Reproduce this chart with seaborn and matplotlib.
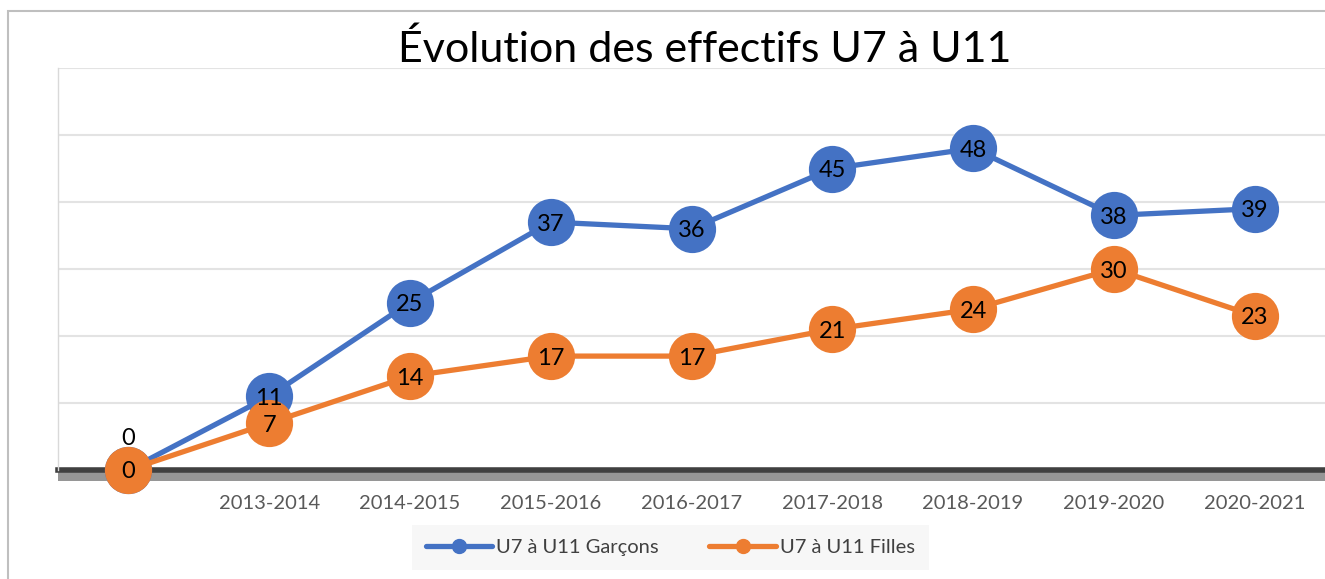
import numpy as np
import pandas as pd
import matplotlib.pyplot as plt
import seaborn as sns
from matplotlib.lines import Line2D
from matplotlib.patches import Rectangle

# data
saisons = ["", "2013-2014", "2014-2015", "2015-2016", "2016-2017",
           "2017-2018", "2018-2019", "2019-2020", "2020-2021"]
garcons = [0, 11, 25, 37, 36, 45, 48, 38, 39]
filles = [0, 7, 14, 17, 17, 21, 24, 30, 23]
series = ["U7 à U11 Garçons", "U7 à U11 Filles"]
couleurs = ["#4472C4", "#ED7D31"]

df = pd.DataFrame({
    "pos": list(range(len(saisons))) * 2,
    "effectif": garcons + filles,
    "serie": [series[0]] * len(saisons) + [series[1]] * len(saisons),
})

sns.set_theme(style="white")
plt.rcParams["font.family"] = ["Lato", "DejaVu Sans"]

fig = plt.figure(figsize=(13.25, 5.79), dpi=100)
ax = fig.add_axes([58 / 1325, 109 / 579, 1 - 58 / 1325, 402 / 579])

sns.lineplot(data=df, x="pos", y="effectif", hue="serie", palette=couleurs,
             marker="o", markersize=34, markeredgewidth=0, linewidth=3.8,
             sort=False, legend=False, ax=ax, zorder=3)
for ln in ax.lines:
    ln.set_clip_on(False)

# data labels
lab_fs = 17
for i, v in enumerate(garcons):
    if i == 0:
        ax.annotate(str(v), (i, v), xytext=(0, 24), textcoords="offset points",
                    ha="center", va="center_baseline", fontsize=lab_fs, color="black", zorder=5)
    else:
        ax.text(i, v, str(v), ha="center", va="center_baseline", fontsize=lab_fs,
                color="black", zorder=5)
for i, v in enumerate(filles):
    ax.text(i, v, str(v), ha="center", va="center_baseline", fontsize=lab_fs,
            color="black", zorder=6)

ax.set_xlim(-0.5, len(saisons) - 0.5)
ax.set_ylim(0, 60)
ax.set_yticks(np.arange(0, 61, 10))
ax.set_yticklabels([])
ax.set_xticks(range(len(saisons)))
ax.set_xticklabels(saisons, fontsize=14.5, color="#595959")
ax.tick_params(axis="x", length=0, pad=18)
ax.tick_params(axis="y", length=0)
ax.set_xlabel("")
ax.set_ylabel("")
ax.grid(axis="y", color="#e3e3e3", linewidth=1.5)
ax.grid(axis="x", visible=False)
for s in ["top", "right"]:
    ax.spines[s].set_visible(False)
ax.spines["left"].set_color("#d9d9d9")
ax.spines["left"].set_linewidth(1)
ax.spines["bottom"].set_color("#404040")
ax.spines["bottom"].set_linewidth(4)
ax.spines["bottom"].set_zorder(2)
ax.add_patch(Rectangle((0, -0.027), 1, 0.022, transform=ax.transAxes,
                       facecolor="#969696", edgecolor="none", clip_on=False, zorder=1))

fig.text(0.532, 0.915, "Évolution des effectifs U7 à U11", ha="center", va="center",
         fontsize=31, color="black")

handles = [Line2D([0], [0], color=c, lw=3.8, marker="o", markersize=10) for c in couleurs]
leg = fig.legend(handles, series, loc="center", bbox_to_anchor=(0.506, 0.054), ncol=2,
                 frameon=True, fontsize=14.5, handlelength=3.3, columnspacing=2.5,
                 borderpad=0.7, handletextpad=0.2, borderaxespad=0)
leg.get_frame().set_facecolor("#f5f5f5")
leg.get_frame().set_edgecolor("none")
leg.get_frame().set_boxstyle("square", pad=0)
for t in leg.get_texts():
    t.set_color("#404040")

fig.patches.append(Rectangle((8 / 1325, -0.1), 1.1, 1.1 - 12 / 579 + 0.001,
                             transform=fig.transFigure, facecolor="none",
                             edgecolor="#bfbfbf", linewidth=1.5))

fig.savefig("out.png", dpi=100)
